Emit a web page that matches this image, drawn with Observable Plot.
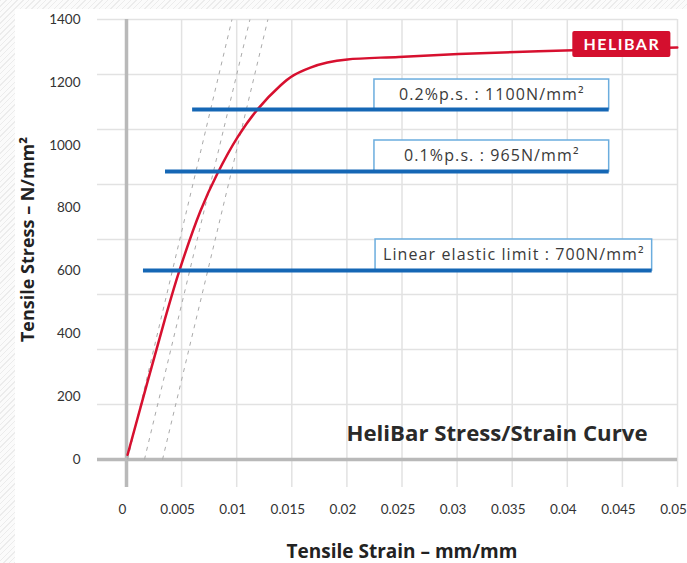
<!DOCTYPE html>
<html>
<head>
<meta charset="utf-8">
<script src="https://cdn.jsdelivr.net/npm/d3@7"></script>
<script src="https://cdn.jsdelivr.net/npm/@observablehq/plot@0.6"></script>
<style>
  html, body { margin: 0; padding: 0; }
  body {
    width: 687px; height: 563px; overflow: hidden; position: relative;
    background: repeating-linear-gradient(135deg, #ececec 0 1px, #fbfbfb 1px 4px);
  }
  #panel { position: absolute; left: 15px; top: 9px; width: 672px; height: 554px; background: #fff; }
  #chart { position: absolute; left: 0; top: 0; }
  #chart svg { background: transparent; }
</style>
</head>
<body>
<div id="panel"></div>
<div id="chart"></div>
<script>
// ---- data ----
const xTicks = [0, 0.005, 0.01, 0.015, 0.02, 0.025, 0.03, 0.035, 0.04, 0.045, 0.05];
const xTickLabels = ["0", "0.005", "0.01", "0.015", "0.02", "0.025", "0.03", "0.035", "0.04", "0.045", "0.05"];
const yTicks = [0, 200, 400, 600, 800, 1000, 1200, 1400];
const yGridValues = [0, 175, 350, 525, 700, 875, 1050, 1225, 1400];
const xGridValues = [0, 0.005, 0.01, 0.015, 0.02, 0.025, 0.03, 0.035, 0.04, 0.045, 0.05];

// HeliBar stress/strain curve
const curveStrain = [0.0001, 0.00345, 0.0048, 0.0067, 0.00825, 0.01007, 0.01189, 0.01397, 0.01515, 0.01669, 0.01823, 0.02004, 0.0247, 0.03013, 0.03739, 0.04998];
const curveStress = [15, 442, 601, 790, 910, 1025, 1114, 1190, 1222, 1247, 1263, 1273, 1281, 1290, 1299, 1311];

// dashed offset (modulus) lines
const offsetStrainBottom = [0.0001, 0.00163, 0.00327];
const offsetStrainTop = [0.00957, 0.0112, 0.01283];
const offsetStressBottom = 0;
const offsetStressTop = 1400;

// limit annotations
const limitLabels = ["0.2%p.s. : 1100N/mm²", "0.1%p.s. : 965N/mm²", "Linear elastic limit : 700N/mm²"];
const limitStress = [1114, 916, 601];
const limitStart = [0.006, 0.00354, 0.00154];
const limitEnd = [0.0438, 0.0438, 0.0477];
const boxStart = [0.0225, 0.0225, 0.0226];
const boxTop = [1209, 1015, 700];

const seriesName = "HELIBAR";
const seriesTagX = [0.0405, 0.0494];
const seriesTagY = [1279, 1362];

const chartTitle = "HeliBar Stress/Strain Curve";
const xTitle = "Tensile Strain – mm/mm";
const yTitle = "Tensile Stress – N/mm²";

// ---- build ----
const curve = curveStrain.map((x, i) => ({x, y: curveStress[i]}));
const offsets = offsetStrainBottom.map((x, i) => ({x1: x, x2: offsetStrainTop[i], y1: offsetStressBottom, y2: offsetStressTop}));
const limits = limitLabels.map((label, i) => ({
  label, y: limitStress[i], x1: limitStart[i], x2: limitEnd[i], bx1: boxStart[i], by2: boxTop[i]
}));

const tickFont = "Lato, 'Open Sans', sans-serif";
const font = "'Open Sans', Lato, sans-serif";

const plot = Plot.plot({
  width: 687,
  height: 563,
  marginLeft: 126,
  marginRight: 10,
  marginTop: 19,
  marginBottom: 104,
  style: { fontFamily: font, background: "transparent", overflow: "visible" },
  x: { domain: [0, 0.05], axis: null },
  y: { domain: [0, 1400], axis: null },
  marks: [
    // grid
    Plot.ruleY(yGridValues, { stroke: "#e2e2e2", strokeWidth: 1.5, insetLeft: -29 }),
    Plot.ruleX(xGridValues, { stroke: "#e2e2e2", strokeWidth: 1.5, insetBottom: -28 }),
    // axis lines
    Plot.ruleY([0], { stroke: "#b9b9b9", strokeWidth: 3.5, insetLeft: -29 }),
    Plot.ruleX([0], { stroke: "#b9b9b9", strokeWidth: 3.5, insetBottom: -28 }),
    // tick labels
    Plot.text(yTicks, { x: 0, y: d => d, text: d => String(d), dx: -46, textAnchor: "end", fontSize: 13.5, fill: "#333", fontFamily: tickFont }),
    Plot.text(xTicks, { x: d => d, y: 0, text: (d, i) => xTickLabels[i], dy: 50, dx: -4, fontSize: 13.5, fill: "#333", fontFamily: tickFont }),
    // dashed offset lines
    Plot.link(offsets, { x1: "x1", y1: "y1", x2: "x2", y2: "y2", stroke: "#aaaaaa", strokeWidth: 1, strokeDasharray: "4,5" }),
    // annotation boxes
    Plot.rect(limits, { x1: "bx1", x2: "x2", y1: "y", y2: "by2", fill: "#fff", stroke: "#6badde", strokeWidth: 1.5 }),
    Plot.text(limits, { x: d => (d.bx1 + d.x2) / 2, y: d => (d.y + d.by2) / 2, text: "label", fontSize: 16, fill: "#3a3a3a", fontFamily: font }),
    // red curve
    Plot.line(curve, { x: "x", y: "y", stroke: "#d7102f", strokeWidth: 2.5, curve: "catmull-rom" }),
    // blue limit lines
    Plot.ruleY(limits, { y: "y", x1: "x1", x2: "x2", stroke: "#1567b5", strokeWidth: 4 }),
    // series tag
    Plot.rect([seriesName], { x1: seriesTagX[0], x2: seriesTagX[1], y1: seriesTagY[0], y2: seriesTagY[1], fill: "#d40f2e", rx: 2 }),
    Plot.text([seriesName], { x: (seriesTagX[0] + seriesTagX[1]) / 2, y: (seriesTagY[0] + seriesTagY[1]) / 2, text: d => d, fill: "#fff", fontWeight: "bold", fontSize: 16, fontFamily: tickFont }),
    // chart title
    Plot.text([chartTitle], { frameAnchor: "bottom-right", text: d => d, textAnchor: "end", lineAnchor: "middle", dx: -30, dy: -26, fontSize: 22.2, fontWeight: "bold", fill: "#2a2a2a", fontFamily: font }),
    // axis titles
    Plot.text([xTitle], { frameAnchor: "bottom", text: d => d, textAnchor: "middle", lineAnchor: "middle", dy: 92, fontSize: 19, fontWeight: "bold", fill: "#222", fontFamily: font }),
    Plot.text([yTitle], { frameAnchor: "left", text: d => d, textAnchor: "middle", lineAnchor: "middle", rotate: -90, dx: -98, fontSize: 18, fontWeight: "bold", fill: "#222", fontFamily: font })
  ]
});
d3.select(plot).selectAll("text")
  .filter(function () { return limitLabels.includes(this.textContent); })
  .style("letter-spacing", "1.1px");
d3.select(plot).selectAll("text")
  .filter(function () { return this.textContent === seriesName; })
  .style("letter-spacing", "1.5px");
document.getElementById("chart").appendChild(plot);
</script>
</body>
</html>
